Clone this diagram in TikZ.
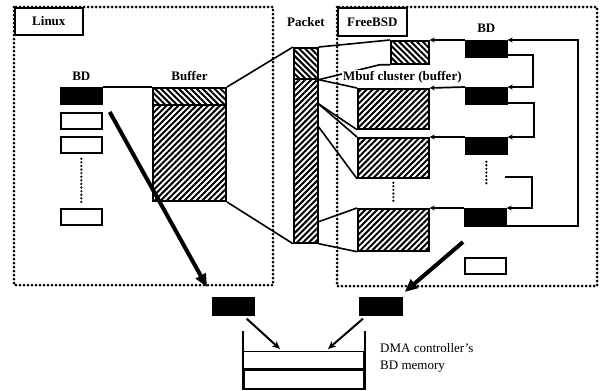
\documentclass[tikz,border=0pt]{standalone}
\usepackage{fontspec}
\setmainfont{Liberation Serif}
\usetikzlibrary{positioning,arrows.meta,calc,patterns.meta}

\tikzset{
  box/.style={draw,line width=1.7pt,inner sep=0pt,anchor=north west},
  bdblack/.style={box,fill=black,minimum width=41pt,minimum height=16pt},
  bdwhite/.style={box,fill=white,minimum width=41pt,minimum height=16pt},
  hatchne/.style={box,pattern={Lines[angle=45,distance=4.2pt,line width=2pt]}},
  hatchnw/.style={box,pattern={Lines[angle=-45,distance=4.2pt,line width=2pt]}},
  osframe/.style={line width=3pt,dash pattern=on 0pt off 4pt,line cap=round},
  dotline/.style={line width=2.4pt,dash pattern=on 0pt off 3.6pt,line cap=round},
  lbl/.style={font=\bfseries\fontsize{13}{15}\selectfont,inner sep=0pt},
  link/.style={line width=1.6pt},
  bdarr/.style={line width=1.7pt,-{Stealth[length=5pt,width=5pt]}},
  bigarr/.style={line width=4pt,-{Triangle[length=13pt,width=11pt]}},
  thinarr/.style={line width=2pt,-{Stealth[length=8pt,width=7pt]}},
}

\begin{document}
\begin{tikzpicture}[x=1pt,y=-1pt]
\useasboundingbox (0,0) rectangle (603,391);

% OS frames
\draw[osframe] (14,7) rectangle (273,285);
\draw[osframe] (337,7) rectangle (597,286);
\node[box,fill=white,lbl,minimum width=68pt,minimum height=27pt] (linuxlbl) at (14,7) {Linux};
\node[box,fill=white,lbl,minimum width=69pt,minimum height=28pt] (bsdlbl) at (337,7) {FreeBSD};

% Linux ring of BDs
\node[bdblack] (lbd1) at (60,87) {};
\node[bdwhite] (lbd2) at (60,112) {};
\node[bdwhite] (lbd3) at (60,136) {};
\node[bdwhite] (lbd4) at (60,208) {};
\draw[dotline] ([yshift=-5pt]lbd3.south) -- ([yshift=3pt]lbd4.north);
\node[lbl,above=6pt of lbd1] (lbdlbl) {BD};

% Linux buffer
\node[hatchnw,minimum width=73pt,minimum height=17pt] (lbufh) at (152,87) {};
\node[hatchne,minimum width=73pt,minimum height=96pt] (lbuf) at (152,104) {};
\node[lbl,above=6pt of lbufh] (lbuflbl) {Buffer};
\draw[link] (lbd1.north east) -- (lbufh.north west);

% packet
\node[hatchnw,minimum width=24pt,minimum height=31pt] (pkth) at (293,47) {};
\node[hatchne,minimum width=24pt,minimum height=164pt] (pkt) at (293,78) {};
\node[lbl,above=20pt of pkth] (pktlbl) {Packet};
\draw[link] (lbufh.north east) -- (pkth.north west);
\draw[link] (lbuf.south east) -- (pkt.south west);
\coordinate (pseg2) at ([yshift=-26pt]pkt.north east);
\coordinate (pseg3) at ([yshift=-49pt]pkt.north east);
\coordinate (pseg4) at ([yshift=22pt]pkt.south east);

% mbuf clusters
\node[hatchnw,minimum width=38pt,minimum height=23pt] (mb1) at (390,40) {};
\node[hatchne,minimum width=71pt,minimum height=40pt] (mb2) at (357,88) {};
\node[hatchne,minimum width=71pt,minimum height=40pt] (mb3) at (357,137) {};
\node[hatchne,minimum width=71pt,minimum height=42pt] (mb4) at (357,208) {};
\draw[dotline] ([yshift=-4pt]mb3.south) -- ([yshift=6pt]mb4.north);
\draw[link] (pkth.north east) -- (mb1.north west);
\draw[link] (pkth.south east) -- ([xshift=-10pt]mb1.south west) -- (mb1.south west);
\draw[link] (pkth.south east) -- (mb2.north west);
\draw[link] (pseg2) -- (mb2.south west);
\draw[link] (pseg2) -- (mb3.north west);
\draw[link] (pseg3) -- (mb3.south west);
\draw[link] (pseg4) -- (mb4.north west);
\draw[link] (pkt.south east) -- (mb4.south west);
\node[lbl,fill=white,inner sep=1pt,anchor=west] (mbuflbl) at (342,77) {Mbuf cluster (buffer)};

% FreeBSD ring of BDs
\node[bdblack] (fbd1) at (465,40) {};
\node[bdblack] (fbd2) at (465,87) {};
\node[bdblack] (fbd3) at (465,137) {};
\node[bdblack,minimum height=17pt] (fbd4) at (464,208) {};
\node[bdwhite] (fbdw) at (464,257) {};
\node[lbl,above=7pt of fbd1] (fbdlbl) {BD};
\draw[dotline] ([yshift=-7pt]fbd3.south) -- ++(0,25);
\coordinate (fdots) at (505,177);
\draw[bdarr] (fbd1.north west) -- (mb1.north east);
\draw[bdarr] (fbd2.north west) -- (mb2.north east);
\draw[bdarr] (fbd3.north west) -- (mb3.north east);
\draw[bdarr] (fbd4.north west) -- (mb4.north east);
\draw[bdarr] ([yshift=3pt]fbd1.south east) -- ++(25,0) |- (fbd2.north east);
\draw[bdarr] ([yshift=2pt]fbd2.south east) -- ++(26,0) |- (fbd3.north east);
\draw[bdarr] (fdots) -- ++(27,0) |- (fbd4.north east);
\draw[bdarr] ([yshift=1pt]fbd4.south east) -- ++(71,0) |- (fbd1.north east);

% copies handed to the DMA controller
\node[bdblack,minimum height=17pt] (lblk) at (212,297) {};
\node[bdblack,minimum width=42pt,minimum height=17pt] (rblk) at (359,297) {};
\draw[bigarr] ([xshift=7pt]lbd2.north east) -- ([xshift=-5pt,yshift=10pt]lblk.north west);
\draw[bigarr] ([xshift=-1pt,yshift=15pt]fbdw.north west) -- ([xshift=2pt,yshift=5pt]rblk.north east);

% DMA controller's BD memory
\node[box,line width=1.4pt,minimum width=120pt,minimum height=18pt] (dmarow1) at (243,351) {};
\node[box,line width=1.8pt,minimum width=120pt,minimum height=19pt] (dmarow2) at (243,369) {};
\draw[line width=2.4pt] (dmarow2.north west) -- (dmarow2.north east);
\draw[line width=1.8pt] (dmarow2.south west) -- ++(0,-59);
\draw[line width=1.8pt] (dmarow2.south east) -- ++(0,-59);
\draw[thinarr] ([xshift=-8pt,yshift=-3pt]lblk.south east) -- ([xshift=37pt,yshift=2pt]dmarow1.north west);
\draw[thinarr] ([xshift=4pt,yshift=-3pt]rblk.south west) -- ([xshift=85pt,yshift=2pt]dmarow1.north west);
\node[font=\fontsize{13}{17}\selectfont,inner sep=0pt,align=left,anchor=west] (dmalbl) at (380,358) {DMA controller's\\BD memory};
\end{tikzpicture}
\end{document}
